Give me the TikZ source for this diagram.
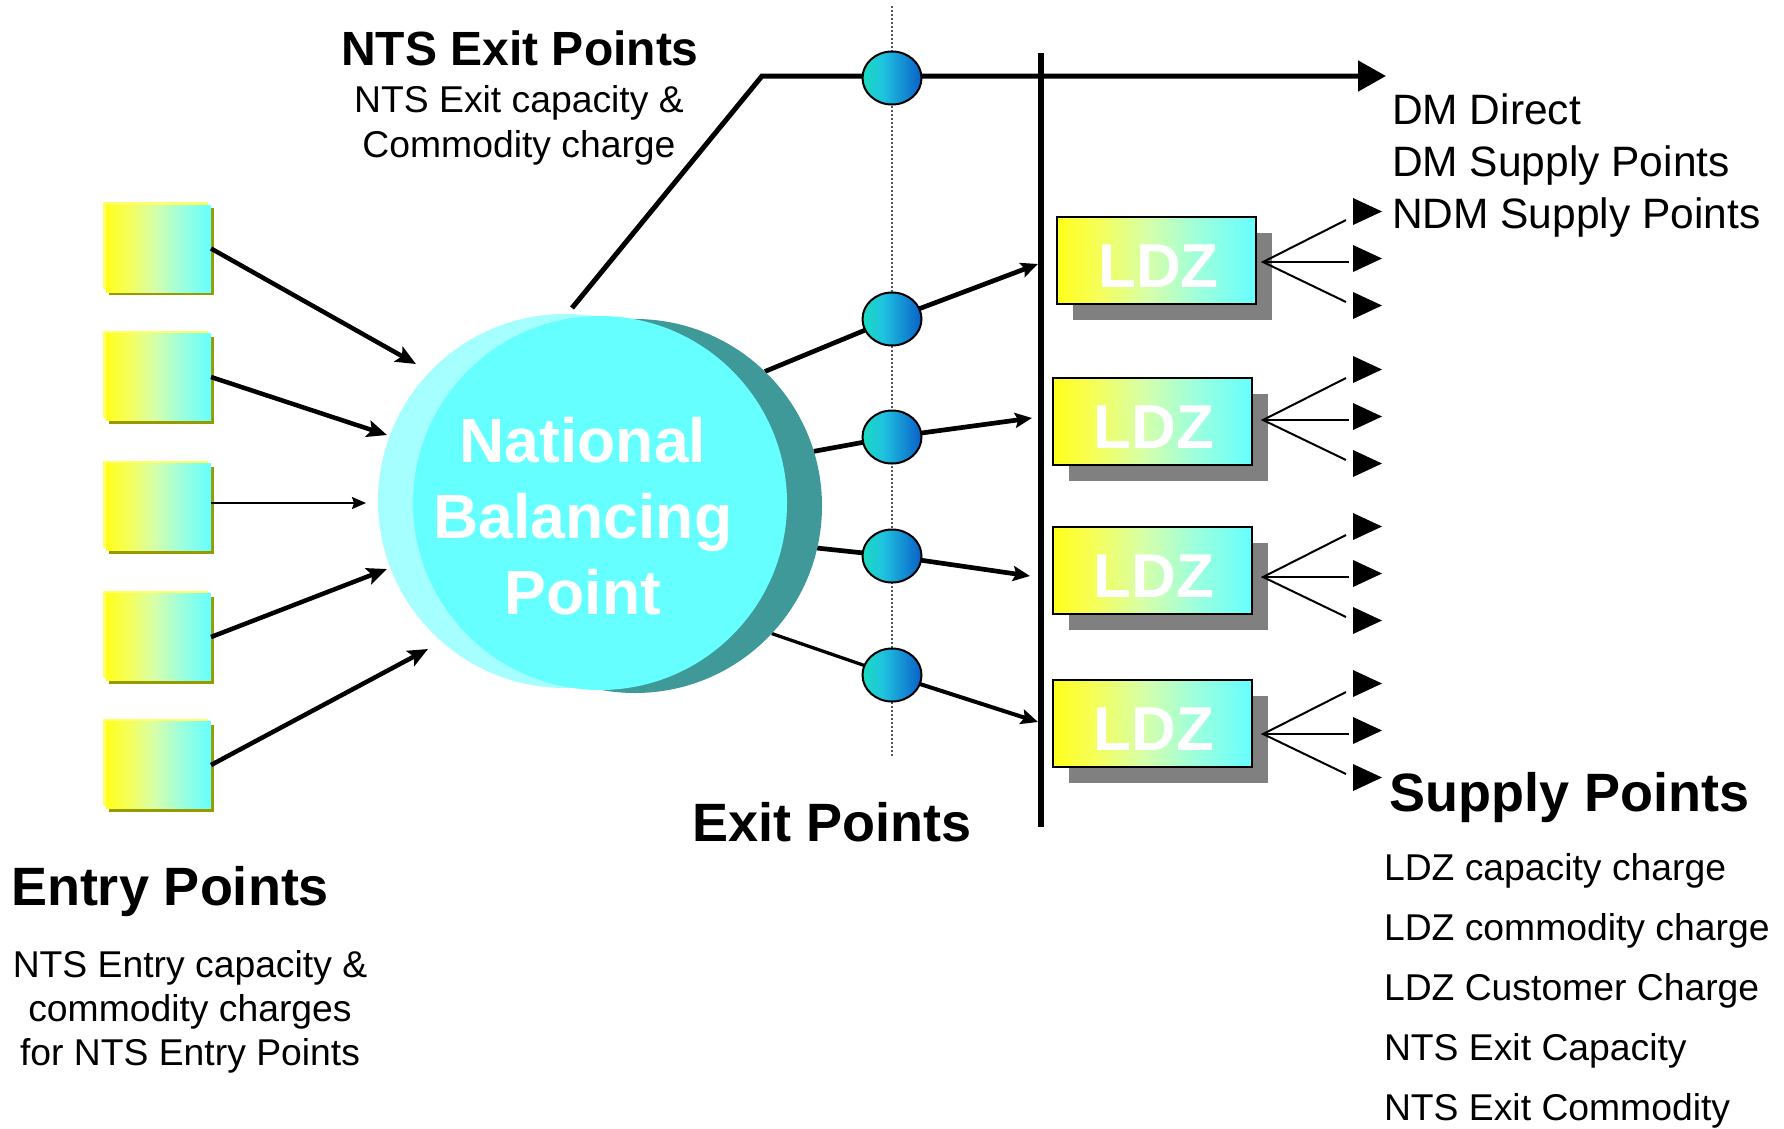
\documentclass[tikz,border=0pt]{standalone}
\usepackage{fontspec}
\setmainfont{Liberation Sans}
\usetikzlibrary{shapes.geometric,arrows.meta,shadows}
\definecolor{byel}{HTML}{FFFF1A}
\definecolor{bone}{HTML}{F4FF5C}
\definecolor{btwo}{HTML}{D6FFAA}
\definecolor{bthree}{HTML}{A0FFDA}
\definecolor{bcyan}{HTML}{66FFFF}
\definecolor{entryhi}{HTML}{FFFF66}
\definecolor{olivesh}{HTML}{999900}
\definecolor{shgray}{HTML}{808080}
\definecolor{nbplight}{HTML}{A6FFFF}
\definecolor{nbpmain}{HTML}{66FFFF}
\definecolor{nbpdark}{HTML}{409999}
\definecolor{exone}{HTML}{1AD9C2}
\definecolor{extwo}{HTML}{1FC3E0}
\definecolor{exthree}{HTML}{0A60C8}
\definecolor{dotgray}{HTML}{555555}
\pgfdeclarehorizontalshading{boxshade}{100bp}{color(0bp)=(byel); color(25bp)=(byel); color(36bp)=(bone); color(48bp)=(btwo); color(60bp)=(bthree); color(75bp)=(bcyan); color(100bp)=(bcyan)}
\pgfdeclarehorizontalshading{exshade}{100bp}{color(0bp)=(exone); color(27bp)=(exone); color(42bp)=(extwo); color(75bp)=(exthree); color(100bp)=(exthree)}
\pgfdeclarelayer{bg}
\pgfsetlayers{bg,main}
\newcommand\fsz[2]{\fontsize{#1}{#2}\selectfont}
\begin{document}
\begin{tikzpicture}[x=1pt,y=-1pt,
  txt/.style={inner sep=0pt, outer sep=0pt, anchor=base},
  txtw/.style={inner sep=0pt, outer sep=0pt, anchor=base west},
  headfont/.style={font=\fsz{54}{60}\bfseries},
  bodyfont/.style={font=\fsz{37.3}{44}},
  dmfont/.style={font=\fsz{42.5}{50}},
  entrybox/.style={rectangle, minimum width=105pt, minimum height=87pt, inner sep=0pt, outer sep=0pt,
    shading=boxshade,
    general shadow={shadow xshift=-3pt, shadow yshift=3pt, fill=entryhi},
    general shadow={shadow xshift=3pt, shadow yshift=-3pt, fill=olivesh}},
  ldzbox/.style={rectangle, draw=black, line width=2pt, minimum width=199pt, minimum height=87pt,
    inner sep=0pt, outer sep=0pt, shading=boxshade,
    general shadow={shadow xshift=16pt, shadow yshift=-16pt, fill=shgray},
    text=white, font=\fsz{62}{70}\bfseries, text height=54pt, text depth=0pt},
  exitpt/.style={ellipse, draw=black, line width=2pt, minimum width=59pt, minimum height=53pt,
    inner sep=0pt, outer sep=0pt, shading=exshade},
  nbpcirc/.style={circle, minimum size=374pt, inner sep=0pt, outer sep=0pt},
  nbptxt/.style={inner sep=0pt, outer sep=0pt, anchor=base, text=white, font=\fsz{62.5}{76}\bfseries},
  bigarrow/.style={line width=4.5pt, -{Stealth[length=20pt,width=17pt,inset=4pt]}},
  thinarrow/.style={line width=2pt, -{Stealth[length=14pt,width=12pt,inset=2pt]}},
  exarrow/.style={line width=4.7pt, -{Stealth[length=17pt,width=15pt,inset=3pt]}},
  fanline/.style={line width=2pt},
  fantri/.style={fill=black}
]
\useasboundingbox (0,0) rectangle (1784,1128);

% National Balancing Point
\node[nbpcirc, fill=nbplight] (nbplt) at (565,501) {};
\node[nbpcirc, fill=nbpdark] (nbpdk) at (635,506) {};
\node[nbpcirc, fill=nbpmain] (nbp) at (600,503) {};
\node[nbptxt] (nbpa) at (583,462) {National};
\node[nbptxt] (nbpb) at (583,538) {Balancing};
\node[nbptxt] (nbpc) at (583,614) {Point};

% Entry boxes
\node[entrybox] (eb1) at (158.5,248.5) {};
\node[entrybox] (eb2) at (158.5,377) {};
\node[entrybox] (eb3) at (158.5,507) {};
\node[entrybox] (eb4) at (158.5,637) {};
\node[entrybox] (eb5) at (158.5,765) {};

% LDZ boxes
\node[ldzbox] (ldz1) at (1156.5,260.5) {\hspace*{4pt}LDZ};
\node[ldzbox] (ldz2) at (1152,421) {\hspace*{4pt}LDZ};
\node[ldzbox] (ldz3) at (1152,570) {\hspace*{4pt}LDZ};
\node[ldzbox] (ldz4) at (1152,723.5) {\hspace*{4pt}LDZ};

% Exit points
\node[exitpt] (ex0) at (892,78) {};
\node[exitpt] (ex1) at (892,319) {};
\node[exitpt] (ex2) at (892,437) {};
\node[exitpt] (ex3) at (892,556) {};
\node[exitpt] (ex4) at (892,675) {};

% coordinates
\coordinate (a1) at (416,364);
\coordinate (a2) at (387,435);
\coordinate (a3) at (366,503);
\coordinate (a4) at (387,569);
\coordinate (a5) at (428,649);
\coordinate (topstart) at (572,308);
\coordinate (topcorner) at (762,76);
\coordinate (toptip) at (1386,76);
\coordinate (vtop) at (1041,53);
\coordinate (vbot) at (1041,827);
\coordinate (dtop) at (892,6);
\coordinate (dbot) at (892,757);
\coordinate (t1) at (1038,264);
\coordinate (t2) at (1032,418);
\coordinate (t3) at (1030,576);
\coordinate (t4) at (1038,722);

\begin{pgfonlayer}{bg}
  \draw[dotgray, line width=1.3pt, dash pattern=on 2pt off 2pt] (dtop) -- (dbot);
  \draw[line width=5pt, -{Triangle[length=28pt,width=30pt]}] (topstart) -- (topcorner) -- (toptip);
  \draw[line width=5.5pt] (vtop) -- (vbot);
  \draw[exarrow] (nbpdk.46) -- (ex1.center) -- (t1);
  \draw[exarrow] (nbpdk.17) -- (ex2.center) -- (t2);
  \draw[exarrow] (nbpdk.-13) -- (ex3.center) -- (t3);
  \draw[line width=3.3pt] (nbpdk.-43) -- (ex4.center);
  \draw[line width=4pt, -{Stealth[length=17pt,width=15pt,inset=3pt]}] (ex4.center) -- (t4);
\end{pgfonlayer}

% entry arrows
\draw[bigarrow] (eb1.east) -- (a1);
\draw[bigarrow] (eb2.east) -- (a2);
\draw[thinarrow] (eb3.east |- a3) -- (a3);
\draw[bigarrow] (eb4.east) -- (a4);
\draw[bigarrow] (eb5.east) -- (a5);

% fans
\foreach \k/\y in {1/262, 2/420, 3/577, 4/734}{
  \coordinate (f\k) at (1263,\y);
  \coordinate (f\k u) at (1346,\y-42);
  \coordinate (f\k m) at (1349,\y);
  \coordinate (f\k d) at (1346,\y+40);
  \draw[fanline] (f\k u) -- (f\k) -- (f\k d);
  \draw[fanline] (f\k) -- (f\k m);
  \foreach \o in {-47,0,47}{
    \fill[fantri] (1353,\y-3.5+\o-13.5) -- (1382,\y-3.5+\o) -- (1353,\y-3.5+\o+13.5) -- cycle;
  }
}

% texts
\node[txt, font=\fsz{48}{56}\bfseries] (ntsexit) at (520,65) {NTS Exit Points};
\node[txt, bodyfont] (ntsexita) at (519,112) {NTS Exit capacity \&};
\node[txt, bodyfont] (ntsexitb) at (519,157) {Commodity charge};

\node[txtw, dmfont] (dma) at (1392,124) {DM Direct};
\node[txtw, dmfont] (dmb) at (1392,176) {DM Supply Points};
\node[txtw, dmfont] (dmc) at (1392,228) {NDM Supply Points};

\node[txtw, headfont] (exitpts) at (692,841) {Exit Points};
\node[txtw, headfont] (entrypts) at (11,905) {Entry Points};
\node[txt, bodyfont] (entrya) at (190,977) {NTS Entry capacity \&};
\node[txt, bodyfont] (entryb) at (190,1021) {commodity charges};
\node[txt, bodyfont] (entryc) at (190,1065) {for NTS Entry Points};

\node[txtw, headfont] (supplypts) at (1389,811) {Supply Points};
\node[txtw, bodyfont] (sa) at (1384,880) {LDZ capacity charge};
\node[txtw, bodyfont] (sb) at (1384,940) {LDZ commodity charge};
\node[txtw, bodyfont] (sc) at (1384,1000) {LDZ Customer Charge};
\node[txtw, bodyfont] (sd) at (1384,1060) {NTS Exit Capacity};
\node[txtw, bodyfont] (se) at (1384,1120) {NTS Exit Commodity};
\end{tikzpicture}
\end{document}
